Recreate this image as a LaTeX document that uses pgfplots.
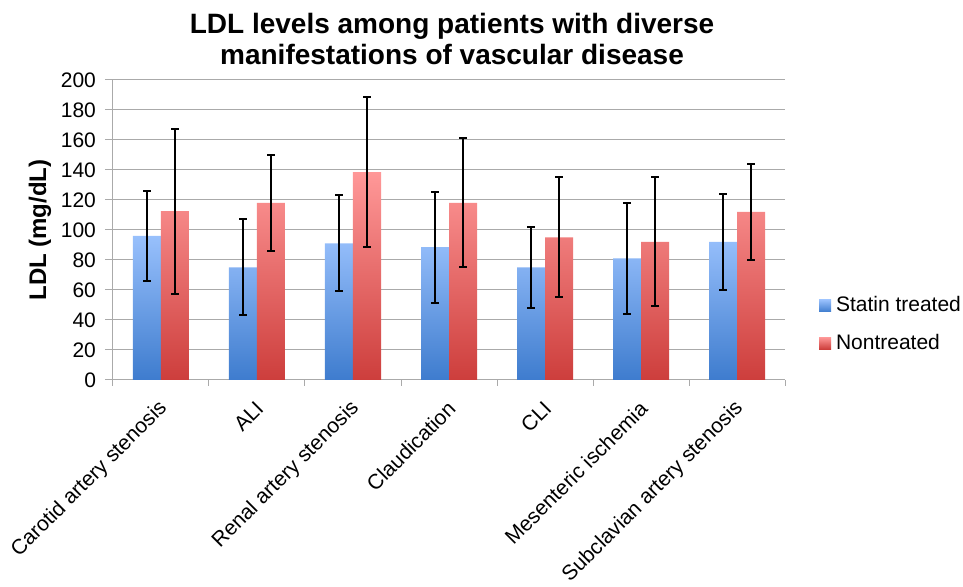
\documentclass[border=0pt]{standalone}
\usepackage{fontspec}
\setmainfont{Liberation Sans}
\usepackage{pgfplots}
\usepackage{pgfplotstable}
\pgfplotsset{compat=1.18}
\definecolor{bluetop}{RGB}{152,192,252}
\definecolor{bluebot}{RGB}{62,124,206}
\definecolor{redtop}{RGB}{255,152,152}
\definecolor{redbot}{RGB}{205,62,60}
\definecolor{gridc}{RGB}{170,170,170}
\pgfplotstableread{
x y e
0 96 30
1 75 32
2 91 32
3 88.5 37
4 75 27
5 81 37
6 92 32
}\statin
\pgfplotstableread{
x y e
0 112.5 55
1 118 32
2 138.5 50
3 118 43
4 95 40
5 92 43
6 112 32
}\nontreated
\begin{document}
\begin{tikzpicture}
\begin{axis}[
  scale only axis, width=336pt, height=150pt,
  ymin=0, ymax=200, ytick={0,20,...,200},
  xmin=-0.5, xmax=6.5,
  xtick={0,...,6},
  xticklabels={Carotid artery stenosis, ALI, Renal artery stenosis, Claudication, CLI, Mesenteric ischemia, Subclavian artery stenosis},
  minor xtick={-0.5,0.5,...,6.5},
  major x tick style={draw=none},
  minor x tick style={draw=gridc, line width=0.5pt},
  minor tick length=3pt,
  major tick length=4pt,
  tick align=outside,
  axis x line*=bottom, axis y line*=left,
  axis line style={draw=gridc, line width=0.5pt, -},
  y axis line style={draw=gridc},
  ytick style={draw=gridc, line width=0.5pt},
  ymajorgrids, major grid style={draw=gridc, line width=0.5pt},
  /pgf/number format/assume math mode=true,
  tick label style={font=\fontsize{10.5}{12}\selectfont},
  yticklabel style={xshift=-1pt},
  xticklabel style={xshift=1.5pt, yshift=-8.5pt, rotate=45, anchor=east, inner sep=0pt},
  ylabel={LDL (mg/dL)},
  ylabel style={font=\bfseries\fontsize{12}{14}\selectfont, at={(axis description cs:-0.1086,0.5)}, anchor=center},
  title={LDL levels among patients with diverse\\manifestations of vascular disease},
  title style={font=\bfseries\fontsize{14}{15.5}\selectfont, align=center, at={(axis description cs:0.5045,1)}, anchor=south, yshift=-2pt},
  ybar=0pt, bar width=14pt,
  legend style={draw=none, fill=none, at={(1.05,0.185)}, anchor=west, row sep=5.5pt, font=\fontsize{10.5}{12}\selectfont, inner sep=0pt, nodes={inner xsep=2.5pt}},
  legend cell align=left,
  error bars/y dir=both, error bars/y explicit,
  error bars/error bar style={line width=1pt, black},
  error bars/error mark options={rotate=90, mark size=1.9pt, line width=1pt, black},
]
\addplot[draw=none, top color=bluetop, bottom color=bluebot,
  legend image code/.code={\fill[top color=bluetop, bottom color=bluebot] (0pt,-3pt) rectangle (6pt,3pt);}]
  table[x=x, y=y, y error=e] {\statin};
\addlegendentry{Statin treated}
\addplot[draw=none, top color=redtop, bottom color=redbot,
  legend image code/.code={\fill[top color=redtop, bottom color=redbot] (0pt,-3pt) rectangle (6pt,3pt);}]
  table[x=x, y=y, y error=e] {\nontreated};
\addlegendentry{Nontreated}
\end{axis}
\pgfresetboundingbox
\useasboundingbox (-56.5pt,-103.5pt) rectangle (425pt,190pt);
\end{tikzpicture}
\end{document}
